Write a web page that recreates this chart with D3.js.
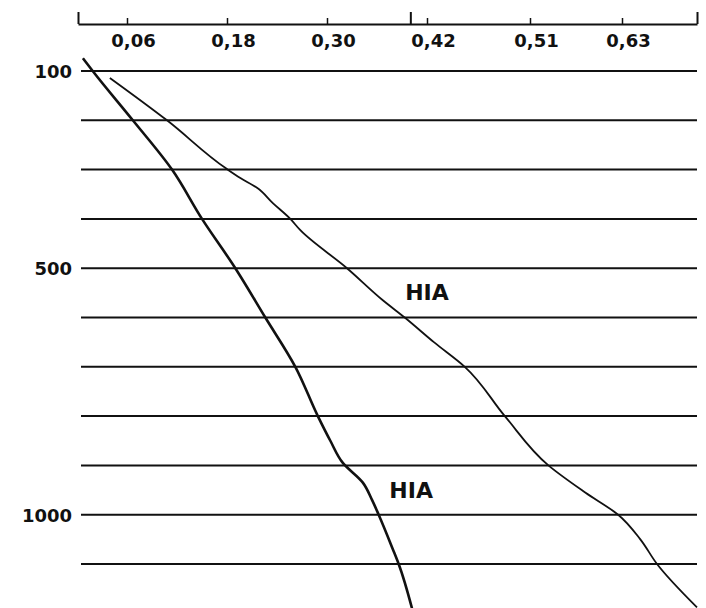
<html>
<script src="https://d3js.org/d3.v7.min.js"></script>
<style>
  body { margin: 0; background: #fff; }
  text { font-family: "DejaVu Sans", sans-serif; fill: #111; }
</style>
<body>
<script>
  let width = 706;
  let height = 608;

  // top scale ticks (hand drawn, so the spacing is not even)
  let tickValues = [0.06, 0.18, 0.30, 0.42, 0.51, 0.63];
  let bigTicks = [0, 0.40, 0.72];
  // horizontal rules and the labelled ones on the left
  let gridValues = [100, 200, 300, 400, 500, 600, 700, 800, 900, 1000, 1100];
  let yLabels = [100, 500, 1000];

  // the two curves, [x, y]
  let steepCurve = [[0.006, 74], [0.018, 100], [0.067, 200], [0.114, 300], [0.150, 400],
    [0.190, 500], [0.226, 600], [0.262, 700], [0.289, 800], [0.304, 850], [0.319, 895],
    [0.343, 935], [0.354, 970], [0.362, 1000], [0.379, 1070], [0.386, 1100], [0.402, 1190]];
  let flatCurve = [[0.039, 114], [0.108, 200], [0.180, 299], [0.196, 317], [0.216, 337],
    [0.235, 368], [0.256, 400], [0.268, 423], [0.324, 500], [0.367, 565], [0.394, 601],
    [0.426, 650], [0.453, 700], [0.488, 800], [0.534, 900], [0.582, 955], [0.625, 1000],
    [0.652, 1050], [0.672, 1100], [0.720, 1188]];
  let labels = [{text: "HIA", x: 0.42, y: 565}, {text: "HIA", x: 0.401, y: 966}];

  let svg = d3.select("body").append("svg")
    .attr("width", width)
    .attr("height", height);

  // polylinear, follows the drawn tick marks
  let x = d3.scaleLinear()
    .domain([0, 0.06, 0.18, 0.30, 0.42, 0.51, 0.63, 0.72])
    .range([78, 127, 227, 327, 427, 530, 622, 697]);
  let y = d3.scaleLinear()
    .domain([100, 1100])
    .range([71, 564]);

  // grid
  svg.append("g").selectAll("line")
    .data(gridValues)
    .join("line")
    .attr("x1", 81)
    .attr("x2", 697)
    .attr("y1", d => y(d))
    .attr("y2", d => y(d))
    .attr("stroke", "#111")
    .attr("stroke-width", 2);

  // top axis, labels sit under the line
  let topAxis = svg.append("g")
    .attr("transform", "translate(0,24)")
    .call(d3.axisTop(x)
      .tickValues(tickValues)
      .tickSize(6)
      .tickSizeOuter(0)
      .tickFormat(d => d.toFixed(2).replace(".", ",")));
  topAxis.select(".domain").attr("stroke", "#111").attr("stroke-width", 2);
  topAxis.selectAll(".tick line").attr("stroke", "#111").attr("stroke-width", 1.5);
  topAxis.selectAll("text")
    .attr("y", 23)
    .attr("dy", null)
    .attr("dx", 6)
    .style("font-size", "18px")
    .style("font-weight", "bold");

  svg.append("g")
    .attr("transform", "translate(0,24)")
    .call(d3.axisTop(x).tickValues(bigTicks).tickSize(12).tickFormat(""))
    .call(g => g.select(".domain").remove())
    .selectAll("line").attr("stroke", "#111").attr("stroke-width", 2);

  // left labels
  let leftAxis = svg.append("g")
    .attr("transform", "translate(78,0)")
    .call(d3.axisLeft(y).tickValues(yLabels).tickSize(0).tickPadding(6)
      .tickFormat(d3.format("d")));
  leftAxis.select(".domain").remove();
  leftAxis.selectAll("text")
    .attr("dy", "0.36em")
    .style("font-size", "18px")
    .style("font-weight", "bold");

  let line = d3.line()
    .x(d => x(d[0]))
    .y(d => y(d[1]))
    .curve(d3.curveMonotoneY);

  svg.append("path")
    .datum(steepCurve)
    .attr("d", line)
    .attr("fill", "none")
    .attr("stroke", "#111")
    .attr("stroke-width", 2.6);

  svg.append("path")
    .datum(flatCurve)
    .attr("d", line)
    .attr("fill", "none")
    .attr("stroke", "#111")
    .attr("stroke-width", 1.8);

  svg.append("g").selectAll("text")
    .data(labels)
    .join("text")
    .attr("x", d => x(d.x))
    .attr("y", d => y(d.y))
    .attr("text-anchor", "middle")
    .style("font-size", "22px")
    .style("font-weight", "bold")
    .text(d => d.text);
</script>
</body>
</html>
